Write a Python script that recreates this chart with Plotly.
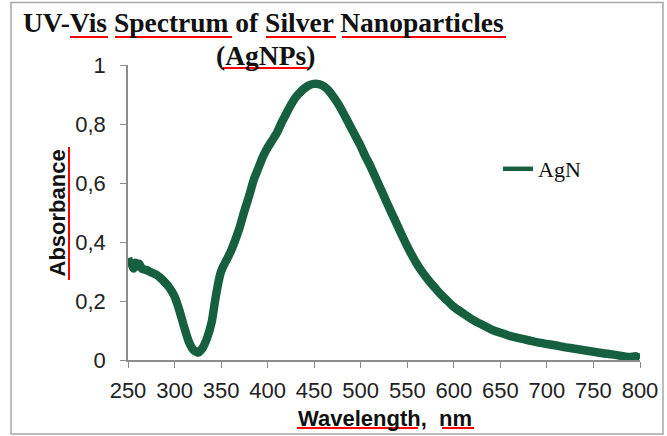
import plotly.graph_objects as go

# ---------------- data ----------------
wavelength_nm = [250, 252, 254, 256, 258, 260, 262, 265, 270, 275, 280, 285, 290, 295,
                 300, 305, 310, 315, 320, 325, 330, 335, 340, 343, 346, 349, 352, 356,
                 360, 365, 370, 375, 380, 385, 390, 395, 400, 405, 410, 415, 420, 425,
                 430, 435, 440, 445, 450, 455, 460, 465, 470, 475, 480, 485, 490, 495,
                 500, 505, 510, 515, 520, 525, 530, 535, 540, 545, 550, 555, 560, 565,
                 570, 575, 580, 585, 590, 595, 600, 610, 620, 630, 640, 650, 660, 670,
                 680, 690, 700, 710, 720, 730, 740, 750, 760, 770, 780, 790, 795, 800]
absorbance = [0.345, 0.33, 0.325, 0.31, 0.33, 0.318, 0.326, 0.31, 0.305, 0.297, 0.29, 0.278, 0.262, 0.243,
              0.215, 0.17, 0.115, 0.065, 0.035, 0.025, 0.04, 0.075, 0.13, 0.19, 0.245, 0.29, 0.315, 0.34,
              0.365, 0.405, 0.45, 0.505, 0.555, 0.61, 0.65, 0.69, 0.72, 0.745, 0.77, 0.805, 0.835, 0.865,
              0.89, 0.908, 0.922, 0.932, 0.936, 0.935, 0.928, 0.915, 0.895, 0.872, 0.845, 0.815, 0.785, 0.755,
              0.725, 0.69, 0.66, 0.625, 0.59, 0.555, 0.52, 0.486, 0.452, 0.418, 0.385, 0.355, 0.327, 0.303,
              0.282, 0.262, 0.244, 0.226, 0.21, 0.195, 0.18, 0.158, 0.137, 0.12, 0.104, 0.092, 0.082, 0.074,
              0.067, 0.06, 0.054, 0.049, 0.043, 0.038, 0.033, 0.028, 0.023, 0.019, 0.014, 0.01, 0.013, 0.006]

series_name = "AgN"
x_tick_values = [250, 300, 350, 400, 450, 500, 550, 600, 650, 700, 750, 800]
y_tick_values = [0, 0.2, 0.4, 0.6, 0.8, 1]
y_tick_labels = ["0", "0,2", "0,4", "0,6", "0,8", "1"]
title_line1 = "UV-Vis Spectrum of Silver Nanoparticles"
title_line2 = "(AgNPs)"
x_title = "Wavelength,\u00a0 nm"
y_title = "Absorbance"

# ---------------- layout geometry (pixels) ----------------
W, H = 667, 436
PL, PR, PT, PB = 128, 640, 65, 360


def px(x):
    return (x - PL) / (PR - PL)


def py(y):
    return (PB - y) / (PB - PT)


GREEN = "#17603f"
AXIS_GREY = "#8c8c8c"
SANS = "Liberation Sans, Arial, sans-serif"
SERIF = "Liberation Serif, Times New Roman, serif"

fig = go.Figure()
fig.add_trace(go.Scatter(
    x=wavelength_nm, y=absorbance, name=series_name, mode="lines", showlegend=False,
    line=dict(color=GREEN, width=8.5, shape="spline", smoothing=0.6, simplify=False),
))
# legend entry (thinner sample line, as in the picture)
fig.add_trace(go.Scatter(
    x=[None], y=[None], name=series_name, mode="lines", showlegend=True,
    line=dict(color=GREEN, width=4.5),
))

annotations = [
    dict(text="<b>" + title_line1 + "</b>", x=px(263), y=py(22.5), xref="paper", yref="paper",
         xanchor="center", yanchor="middle", showarrow=False,
         font=dict(family=SERIF, size=27.5, color="#111")),
    dict(text="<b>" + title_line2 + "</b>", x=px(265), y=py(55.5), xref="paper", yref="paper",
         xanchor="center", yanchor="middle", showarrow=False,
         font=dict(family=SERIF, size=27.5, color="#111")),
    dict(text="<b>" + x_title + "</b>", x=px(385), y=py(418), xref="paper", yref="paper",
         xanchor="center", yanchor="middle", showarrow=False,
         font=dict(family=SANS, size=22, color="#111")),
    dict(text="<b>" + y_title + "</b>", x=px(57), y=py(213.5), xref="paper", yref="paper",
         xanchor="center", yanchor="middle", showarrow=False, textangle=-90,
         font=dict(family=SANS, size=22, color="#111")),
]

# red spell-check underlines seen in the picture (decoration)
underlines_h = [(70, 108, 37), (115, 232, 37), (266, 336, 37), (342, 506, 37),
                (223, 309, 68), (297, 418, 428), (442, 474, 428)]
shapes = [dict(type="rect", xref="paper", yref="paper", x0=px(11), x1=px(663), y0=py(2.5), y1=py(434),
               line=dict(color="#a6a6a6", width=1.5), layer="below")]
for x0, x1, y in underlines_h:
    shapes.append(dict(type="line", xref="paper", yref="paper", x0=px(x0), x1=px(x1), y0=py(y), y1=py(y),
                       line=dict(color="#ff0000", width=2)))
shapes.append(dict(type="line", xref="paper", yref="paper", x0=px(69), x1=px(69), y0=py(147), y1=py(280),
                   line=dict(color="#ff0000", width=2)))

fig.update_layout(
    width=W, height=H,
    margin=dict(l=PL, r=W - PR, t=PT, b=H - PB, autoexpand=False),
    paper_bgcolor="white", plot_bgcolor="white",
    showlegend=True,
    legend=dict(x=px(498), y=py(148), xanchor="left", yanchor="top",
                font=dict(family=SERIF, size=22, color="#111"),
                bgcolor="rgba(0,0,0,0)", borderwidth=0),
    annotations=annotations,
    shapes=shapes,
    xaxis=dict(range=[250, 800], tickvals=x_tick_values, ticks="outside", ticklen=6, tickwidth=1.2,
               tickcolor=AXIS_GREY, showline=True, linecolor=AXIS_GREY, linewidth=1.5,
               showgrid=False, zeroline=False, ticklabelstandoff=4,
               tickfont=dict(family=SANS, size=22, color="#222")),
    yaxis=dict(range=[0, 1], tickvals=y_tick_values, ticktext=y_tick_labels, ticks="outside",
               ticklen=6, tickwidth=1.2, tickcolor=AXIS_GREY, showline=True, linecolor=AXIS_GREY,
               linewidth=1.5, showgrid=False, zeroline=False, ticklabelstandoff=10,
               tickfont=dict(family=SANS, size=22, color="#222")),
)

fig.write_html("out.html")
